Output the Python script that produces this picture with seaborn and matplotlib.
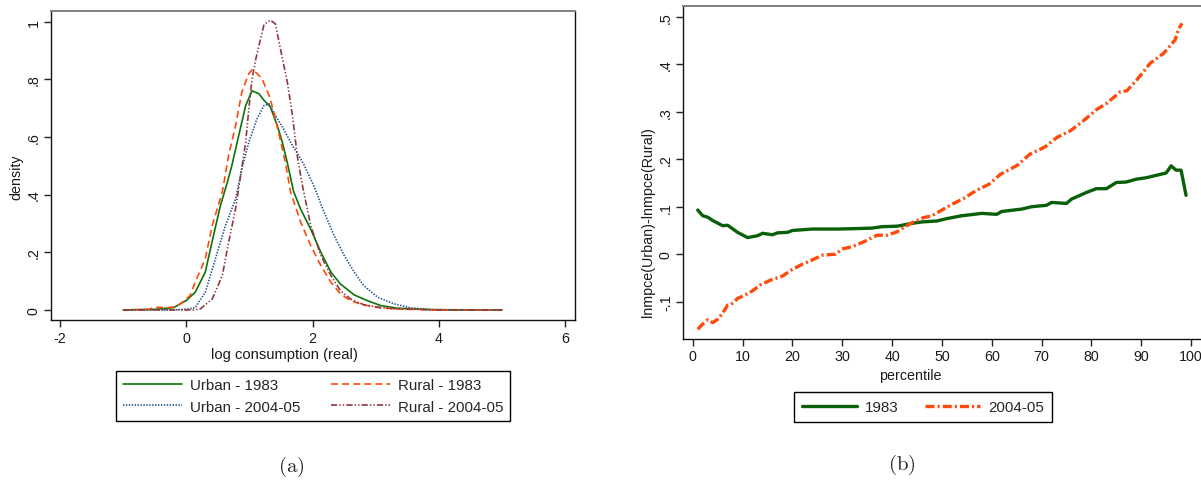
import numpy as np
import pandas as pd
import seaborn as sns
import matplotlib.pyplot as plt

sns.set_style('white')
plt.rcParams['font.family'] = ['Liberation Sans', 'DejaVu Sans']
plt.rcParams['mathtext.fontset'] = 'cm'
plt.rcParams['lines.scale_dashes'] = False

# panel (a): kernel densities of log consumption
urban83_x = [-1.0, -0.5, -0.2, 0.0, 0.14, 0.30, 0.43, 0.54, 0.65, 0.72, 0.83, 0.94, 1.04, 1.15, 1.23, 1.33,
             1.44, 1.52, 1.60, 1.70, 1.81, 1.97, 2.13, 2.29, 2.44, 2.66, 2.87, 3.08, 3.34, 3.87, 4.5, 5.0]
urban83_y = [0.0, 0.002, 0.008, 0.033, 0.061, 0.131, 0.258, 0.362, 0.443, 0.50, 0.605, 0.709, 0.760, 0.750, 0.727, 0.705,
             0.640, 0.582, 0.51, 0.41, 0.35, 0.28, 0.20, 0.131, 0.09, 0.052, 0.032, 0.015, 0.006, 0.001, 0.0, 0.0]

rural83_x = [-1.0, -0.6, -0.5, -0.3, -0.2, -0.1, 0.06, 0.14, 0.30, 0.41, 0.57, 0.67, 0.78, 0.88, 0.99, 1.05, 1.20,
             1.33, 1.41, 1.52, 1.57, 1.65, 1.81, 1.97, 2.13, 2.29, 2.44, 2.60, 2.81, 3.08, 3.34, 4.0, 5.0]
rural83_y = [0.0, 0.002, 0.009, 0.008, 0.01, 0.02, 0.05, 0.096, 0.177, 0.293, 0.409, 0.536, 0.64, 0.756, 0.82, 0.835, 0.802,
             0.733, 0.663, 0.56, 0.51, 0.41, 0.305, 0.223, 0.154, 0.096, 0.056, 0.032, 0.017, 0.007, 0.003, 0.0, 0.0]

urban05_x = [-1.0, -0.2, 0.01, 0.14, 0.30, 0.46, 0.62, 0.78, 0.88, 0.99, 1.12, 1.23, 1.31, 1.41, 1.54, 1.68, 1.78,
             1.86, 2.02, 2.18, 2.34, 2.50, 2.66, 2.81, 3.03, 3.29, 3.56, 3.87, 4.3, 5.0]
urban05_y = [0.0, 0.0, 0.003, 0.008, 0.061, 0.177, 0.293, 0.385, 0.49, 0.582, 0.663, 0.709, 0.715, 0.675, 0.628, 0.57, 0.536,
             0.505, 0.43, 0.34, 0.258, 0.189, 0.131, 0.084, 0.044, 0.021, 0.007, 0.001, 0.0, 0.0]

rural05_x = [-1.0, 0.1, 0.22, 0.41, 0.57, 0.67, 0.78, 0.86, 0.94, 0.99, 1.04, 1.10, 1.23, 1.33, 1.41, 1.49, 1.60,
             1.68, 1.76, 1.84, 1.97, 2.13, 2.29, 2.44, 2.60, 2.81, 3.08, 3.34, 4.0, 5.0]
rural05_y = [0.0, 0.0, 0.003, 0.038, 0.119, 0.235, 0.351, 0.466, 0.582, 0.698, 0.80, 0.87, 0.99, 1.005, 0.993, 0.906, 0.79,
             0.675, 0.53, 0.43, 0.293, 0.189, 0.119, 0.067, 0.038, 0.018, 0.008, 0.004, 0.0, 0.0]

# panel (b): urban-rural gap by percentile
gap83_p = [1, 2, 3, 4, 6, 7, 9, 11, 13, 14, 16, 17, 19, 20, 24, 29, 33, 36, 38, 41, 44, 46, 49, 51, 54, 58,
           61, 62, 66, 68, 71, 72, 75, 76, 79, 81, 83, 85, 87, 89, 91, 93, 95, 96, 97, 98, 99]
gap83 = [0.093, 0.081, 0.078, 0.071, 0.060, 0.061, 0.046, 0.035, 0.039, 0.044, 0.041, 0.045, 0.046, 0.050, 0.053,
         0.053, 0.054, 0.055, 0.058, 0.059, 0.065, 0.068, 0.070, 0.075, 0.081, 0.086, 0.084, 0.090, 0.095, 0.100,
         0.103, 0.109, 0.107, 0.116, 0.130, 0.138, 0.138, 0.151, 0.152, 0.158, 0.161, 0.166, 0.171, 0.186, 0.177,
         0.177, 0.124]

gap05_p = [1, 2, 3, 4, 5, 6, 7, 8, 9, 10.5, 12, 13.5, 15.5, 18, 20, 22, 24, 26, 28.6, 30, 32, 34.3, 36, 37, 39,
           41, 42.3, 44.3, 46.3, 48, 50, 52, 54.3, 57, 59.4, 61.7, 65.1, 67.7, 70.7, 73.1, 75.8, 78.4, 81.1, 83.1,
           85.8, 87.1, 89.2, 91.8, 94.5, 96.8, 97.5, 98.2]
gap05 = [-0.158, -0.147, -0.138, -0.144, -0.137, -0.124, -0.107, -0.103, -0.093, -0.086, -0.077, -0.065, -0.055,
         -0.046, -0.032, -0.021, -0.012, -0.002, 0.0, 0.011, 0.016, 0.026, 0.035, 0.040, 0.040, 0.047, 0.056, 0.068,
         0.077, 0.081, 0.093, 0.105, 0.117, 0.135, 0.147, 0.168, 0.187, 0.211, 0.226, 0.246, 0.260, 0.281, 0.305,
         0.318, 0.342, 0.344, 0.368, 0.402, 0.423, 0.451, 0.474, 0.486]

W, H = 1201, 485
fig = plt.figure(figsize=(W / 100, H / 100), dpi=100)


def box(l, t, r, b):
    return [l / W, 1 - b / H, (r - l) / W, (b - t) / H]


def at(x, y):
    return x / W, 1 - y / H


ax1 = fig.add_axes(box(51, 12, 575.3, 321.3))
ax2 = fig.add_axes(box(683.3, 7.3, 1200.5, 340))

sns.lineplot(x=urban83_x, y=urban83_y, ax=ax1, color='#0c720c', lw=1.2, label='Urban - 1983')
sns.lineplot(x=urban05_x, y=urban05_y, ax=ax1, color='#1d4f86', lw=1.2, linestyle=(0, (1.0, 1.1)),
             label='Urban - 2004-05')
sns.lineplot(x=rural83_x, y=rural83_y, ax=ax1, color='#ff4a0a', lw=1.2, linestyle=(0, (5, 3)),
             label='Rural - 1983')
sns.lineplot(x=rural05_x, y=rural05_y, ax=ax1, color='#8e3a3e', lw=1.2,
             linestyle=(0, (4.5, 1.5, 1, 1.5, 1, 1.5)), label='Rural - 2004-05')

sns.lineplot(x=gap83_p, y=gap83, ax=ax2, color='#0a5f0a', lw=2.4, label='1983')
sns.lineplot(x=gap05_p, y=gap05, ax=ax2, color='#ff4a0a', lw=2.4, linestyle=(0, (6.5, 2.2, 1.5, 2.2)),
             label='2004-05')

ax1.set_xlim(-2.143, 6.16)
ax1.set_ylim(-0.036, 1.037)
ax1.set_xticks([-2, 0, 2, 4, 6], ['-2', '0', '2', '4', '6'])
ax1.set_yticks([0, 0.2, 0.4, 0.6, 0.8, 1.0], ['0', '.2', '.4', '.6', '.8', '1'])

ax2.set_xlim(-1.9, 101.9)
ax2.set_ylim(-0.1785, 0.522)
ax2.set_xticks(np.arange(0, 101, 10), [str(v) for v in range(0, 101, 10)])
ax2.set_yticks([-0.1, 0, 0.1, 0.2, 0.3, 0.4, 0.5], ['-.1', '0', '.1', '.2', '.3', '.4', '.5'])

for ax in (ax1, ax2):
    ax.set_xlabel('')
    ax.set_ylabel('')
    ax.tick_params(direction='out', length=5, width=1, color='#222222', labelsize=10.3,
                   labelcolor='#1a1a1a', pad=2.5, bottom=True, left=True)
    for lab in ax.get_yticklabels():
        lab.set_rotation(90)
        lab.set_va('center')
    for s in ('left', 'bottom', 'right'):
        ax.spines[s].set_color('#111111')
        ax.spines[s].set_linewidth(1.0)
    ax.spines['top'].set_color('#808080')
    ax.spines['top'].set_linewidth(1.4)
    ax.get_legend().remove()
ax2.spines['right'].set_visible(False)

fig.text(*at(284, 355), 'log consumption (real)', ha='center', va='center', fontsize=10.6, color='#1a1a1a')
fig.text(*at(16, 177), 'density', ha='center', va='center', rotation=90, fontsize=10.3, color='#1a1a1a')
fig.text(*at(910, 376), 'percentile', ha='center', va='center', fontsize=10.3, color='#1a1a1a')
fig.text(*at(648, 222), 'lnmpce(Urban)-lnmpce(Rural)', ha='center', va='center', rotation=90,
         fontsize=10.3, color='#1a1a1a')

h, l = ax1.get_legend_handles_labels()
leg1 = fig.legend(h, l, loc='center', bbox_to_anchor=at(313, 397), ncol=2, fontsize=10.9,
                  frameon=True, fancybox=False, edgecolor='black', framealpha=1,
                  handlelength=3.9, handletextpad=0.55, columnspacing=2.0, labelspacing=0.5, borderpad=0.45)
leg1.get_frame().set_linewidth(1.0)

h, l = ax2.get_legend_handles_labels()
leg2 = fig.legend(h, l, loc='center', bbox_to_anchor=at(923, 408), ncol=2, fontsize=10.9,
                  frameon=True, fancybox=False, edgecolor='black', framealpha=1,
                  handlelength=3.6, handletextpad=0.55, columnspacing=1.75, borderpad=0.55)
leg2.get_frame().set_linewidth(1.0)

fig.text(*at(291, 467), r'$\mathrm{(a)}$', ha='center', va='center', fontsize=15)
fig.text(*at(902, 465), r'$\mathrm{(b)}$', ha='center', va='center', fontsize=15)

fig.savefig('out.png', dpi=100)
